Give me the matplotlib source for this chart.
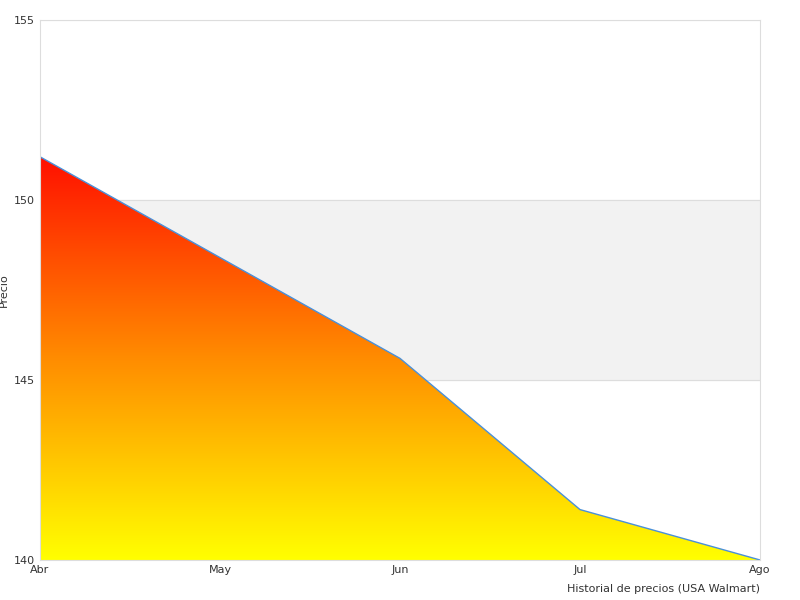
import matplotlib
matplotlib.use("Agg")
import matplotlib.pyplot as plt
import numpy as np
from matplotlib.patches import Polygon

months = ["Abr", "May", "Jun", "Jul", "Ago"]
prices = [151.2, 148.4, 145.6, 141.4, 140.0]
y_ticks = [140, 145, 150, 155]

fig = plt.figure(figsize=(8, 6), dpi=100)
ax = fig.add_axes([0.05, 0.0667, 0.9, 0.9])
x = np.arange(len(months))

ax.axhspan(145, 150, color="#f2f2f2", zorder=0)
for t in y_ticks:
    ax.axhline(t, color="#dddddd", linewidth=0.8, zorder=0.5)

# gradient fill: red at the peak, yellow at the base
grad = np.linspace(0, 1, 256).reshape(-1, 1)
cmap = matplotlib.colors.LinearSegmentedColormap.from_list("ry", ["#ffff00", "#ff8c00", "#ff1000"])
img = ax.imshow(grad, extent=[x[0], x[-1], 140, max(prices)], origin="lower",
                aspect="auto", cmap=cmap, zorder=1)
poly = Polygon(list(zip(x, prices)) + [(x[-1], 140), (x[0], 140)], closed=True,
               transform=ax.transData, facecolor="none", edgecolor="none")
ax.add_patch(poly)
img.set_clip_path(poly)
ax.plot(x, prices, color="#4a90d9", linewidth=1, zorder=2)
ax.plot([x[0], x[0]], [140, prices[0]], color="#333333", linewidth=1.2, zorder=2)

ax.set_xlim(x[0], x[-1])
ax.set_ylim(140, 155)
ax.set_xticks(x)
ax.set_xticklabels(months)
ax.set_yticks(y_ticks)
ax.tick_params(length=0, labelsize=8, colors="#333333")
for s in ax.spines.values():
    s.set_color("#dddddd")
ax.set_ylabel("Precio", fontsize=8, color="#333333")
ax.text(1.0, -0.045, "Historial de precios (USA Walmart)", transform=ax.transAxes,
        ha="right", va="top", fontsize=8, color="#333333")
fig.savefig("out.png")
